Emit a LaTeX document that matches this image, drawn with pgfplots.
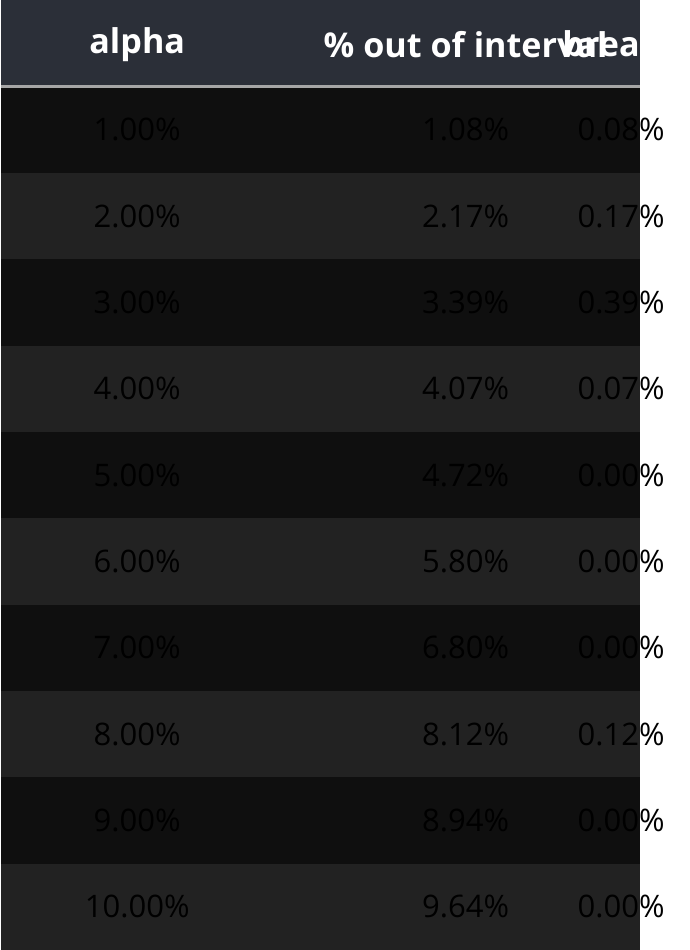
\documentclass[border=0pt]{standalone}
\usepackage{pgfplots}
\pgfplotsset{compat=1.18}
\usepackage{fontspec}
\setmainfont{Open Sans}
\definecolor{hdr}{HTML}{2B2F38}
\definecolor{rowa}{HTML}{0F0F0F}
\definecolor{rowb}{HTML}{222222}
\definecolor{txt}{HTML}{E6E6E6}
\begin{document}
\begin{tikzpicture}
\begin{axis}[scale only axis, width=19cm, height=10.76cm, xmin=0, xmax=950, ymin=0, ymax=538, y dir=reverse, hide axis, clip=true,
  every node/.style={anchor=east, text=txt, font=\fontsize{11}{13}\selectfont}]
\addplot[fill=hdr, draw=none] coordinates {(293,0) (655,0) (655,49) (293,49)} -- cycle;
\addplot[fill=rowa, draw=none] coordinates {(293,49) (655,49) (655,97.9) (293,97.9)} -- cycle;
\addplot[fill=rowb, draw=none] coordinates {(293,97.9) (655,97.9) (655,146.8) (293,146.8)} -- cycle;
\addplot[fill=rowa, draw=none] coordinates {(293,146.8) (655,146.8) (655,195.7) (293,195.7)} -- cycle;
\addplot[fill=rowb, draw=none] coordinates {(293,195.7) (655,195.7) (655,244.6) (293,244.6)} -- cycle;
\addplot[fill=rowa, draw=none] coordinates {(293,244.6) (655,244.6) (655,293.5) (293,293.5)} -- cycle;
\addplot[fill=rowb, draw=none] coordinates {(293,293.5) (655,293.5) (655,342.4) (293,342.4)} -- cycle;
\addplot[fill=rowa, draw=none] coordinates {(293,342.4) (655,342.4) (655,391.3) (293,391.3)} -- cycle;
\addplot[fill=rowb, draw=none] coordinates {(293,391.3) (655,391.3) (655,440.2) (293,440.2)} -- cycle;
\addplot[fill=rowa, draw=none] coordinates {(293,440.2) (655,440.2) (655,489.1) (293,489.1)} -- cycle;
\addplot[fill=rowb, draw=none] coordinates {(293,489.1) (655,489.1) (655,538) (293,538)} -- cycle;
\addplot[draw=gray!70, line width=0.8pt] coordinates {(293,49) (655,49)};
\node[text=white, font=\bfseries\fontsize{11}{13}\selectfont] at (axis cs:370,25) {alpha};
\node[text=white, font=\bfseries\fontsize{11}{13}\selectfont] at (axis cs:556,25) {\% out of interval};
\node[text=white, font=\bfseries\fontsize{11}{13}\selectfont] at (axis cs:644,25) {breach};
\node at (axis cs:370,73.45) {1.00\%};  \node at (axis cs:556,73.45) {1.08\%};  \node at (axis cs:644,73.45) {0.08\%};
\node at (axis cs:370,122.35) {2.00\%}; \node at (axis cs:556,122.35) {2.17\%}; \node at (axis cs:644,122.35) {0.17\%};
\node at (axis cs:370,171.25) {3.00\%}; \node at (axis cs:556,171.25) {3.39\%}; \node at (axis cs:644,171.25) {0.39\%};
\node at (axis cs:370,220.15) {4.00\%}; \node at (axis cs:556,220.15) {4.07\%}; \node at (axis cs:644,220.15) {0.07\%};
\node at (axis cs:370,269.05) {5.00\%}; \node at (axis cs:556,269.05) {4.72\%}; \node at (axis cs:644,269.05) {0.00\%};
\node at (axis cs:370,317.95) {6.00\%}; \node at (axis cs:556,317.95) {5.80\%}; \node at (axis cs:644,317.95) {0.00\%};
\node at (axis cs:370,366.85) {7.00\%}; \node at (axis cs:556,366.85) {6.80\%}; \node at (axis cs:644,366.85) {0.00\%};
\node at (axis cs:370,415.75) {8.00\%}; \node at (axis cs:556,415.75) {8.12\%}; \node at (axis cs:644,415.75) {0.12\%};
\node at (axis cs:370,464.65) {9.00\%}; \node at (axis cs:556,464.65) {8.94\%}; \node at (axis cs:644,464.65) {0.00\%};
\node at (axis cs:370,513.55) {10.00\%}; \node at (axis cs:556,513.55) {9.64\%}; \node at (axis cs:644,513.55) {0.00\%};
\end{axis}
\end{tikzpicture}
\end{document}
